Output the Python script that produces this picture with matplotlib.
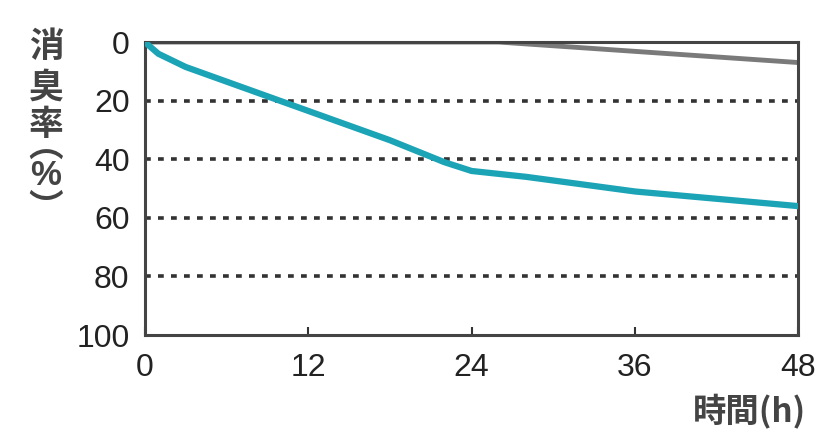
import matplotlib.pyplot as plt

# 消臭率データ
jikan = [0, 1, 3, 6, 12, 18, 22, 24, 28, 36, 42, 48]
shoshu_teal = [0, 4, 8.5, 13.5, 23.5, 33.5, 41, 44, 46, 51, 53.5, 56]
jikan_gray = [0, 26, 48]
shoshu_gray = [0, 0, 7]

x_ticks = [0, 12, 24, 36, 48]
y_ticks = [0, 20, 40, 60, 80, 100]

plt.rcParams['font.family'] = ['Liberation Sans', 'DejaVu Sans']
jp = ['Noto Sans CJK JP', 'DejaVu Sans']

fig = plt.figure(figsize=(8.18, 4.29), dpi=100)
ax = fig.add_axes([0.177, 0.219, 0.799, 0.683])

for y in y_ticks[1:-1]:
    ax.axhline(y, color='#333333', lw=2.6, linestyle=(0, (1.6, 2.0)), zorder=1)

ax.plot(jikan_gray, shoshu_gray, color='#7a7a7a', lw=3.5, zorder=2)
ax.plot(jikan, shoshu_teal, color='#1ba3b6', lw=4.5, zorder=3,
        solid_capstyle='round', solid_joinstyle='round')

ax.set_xlim(0, 48)
ax.set_ylim(100, 0)
ax.set_xticks(x_ticks)
ax.set_yticks(y_ticks)
ax.tick_params(axis='x', direction='in', length=6, width=1.5, color='#333333',
               labelsize=23, pad=13, labelcolor='#222222')
ax.tick_params(axis='y', length=0, labelsize=23, pad=11, labelcolor='#222222')
for s in ax.spines.values():
    s.set_color('#444444')
    s.set_linewidth(2.2)

# 縦書きのラベル（文字ごとに配置）
ylabel_chars = ['消', '臭', '率', '︵', '%', '︶']
ylabel_ypx = [47, 87, 124, 147, 175, 208]
for ch, ypx in zip(ylabel_chars, ylabel_ypx):
    if ch == '%':
        fig.text(46 / 818, 1 - ypx / 429, ch, ha='center', va='center',
                 fontsize=25, fontweight='bold', color='#444444',
                 family=['Liberation Sans'])
    else:
        fig.text(46 / 818, 1 - ypx / 429, ch, ha='center', va='center',
                 fontsize=25, fontweight='bold', color='#444444', family=jp)

fig.text(0.985, 1 - 394 / 429, '時間(h)', ha='right', va='top', fontsize=24,
         fontweight='bold', color='#444444', family=jp)

plt.savefig('out.png', dpi=100)
